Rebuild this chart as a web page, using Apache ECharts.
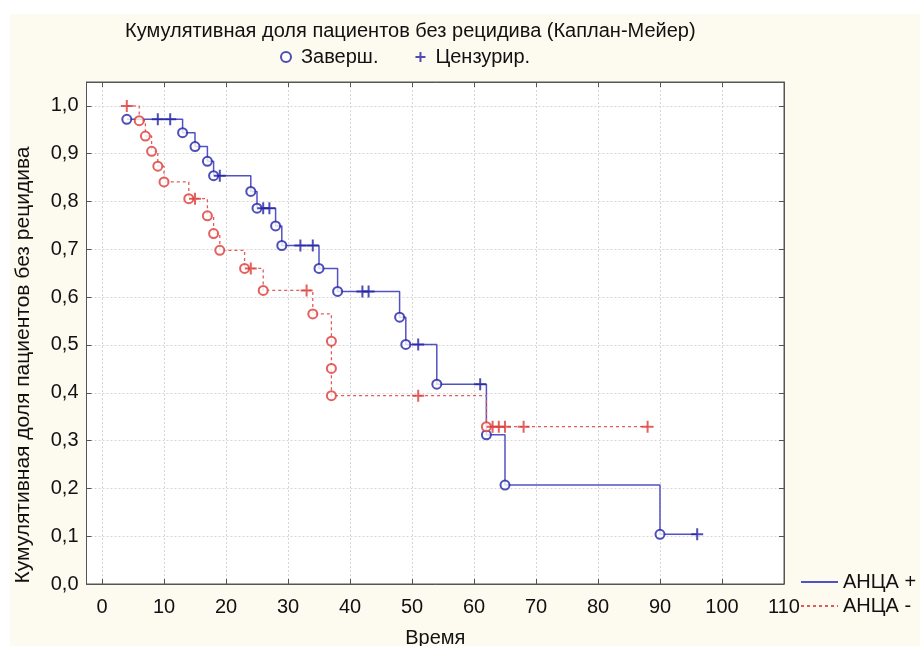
<!DOCTYPE html>
<html>
<head>
<meta charset="utf-8">
<script src="https://cdn.jsdelivr.net/npm/echarts@6/dist/echarts.min.js"></script>
<style>
html,body{margin:0;padding:0;background:#fff;}
#chart{width:920px;height:646px;}
</style>
</head>
<body>
<div id="chart"></div>
<script>
// АНЦА + (blue): time, survival, status (1 = event/завершённое, 0 = censored)
var posTime   = [4, 9, 11, 13, 15, 17, 18, 19, 24, 25, 26, 27, 28, 29, 32, 34, 35, 38, 42, 43, 48, 49, 51, 54, 61, 62, 65, 90, 96];
var posSurv   = [0.972, 0.972, 0.972, 0.944, 0.915, 0.884, 0.854, 0.854, 0.821, 0.786, 0.786, 0.786, 0.749, 0.708, 0.708, 0.708, 0.660, 0.612, 0.612, 0.612, 0.558, 0.501, 0.501, 0.418, 0.418, 0.312, 0.207, 0.104, 0.104];
var posStatus = [1, 0, 0, 1, 1, 1, 1, 0, 1, 1, 0, 0, 1, 1, 0, 0, 1, 1, 0, 0, 1, 1, 0, 1, 0, 1, 1, 1, 0];

// АНЦА - (red)
var negTime   = [4, 6, 7, 8, 9, 10, 14, 15, 17, 18, 19, 23, 24, 26, 33, 34, 37, 37, 37, 51, 62, 63, 64, 65, 68, 88];
var negSurv   = [1.0, 0.969, 0.937, 0.905, 0.874, 0.841, 0.806, 0.806, 0.770, 0.733, 0.698, 0.660, 0.660, 0.614, 0.614, 0.565, 0.508, 0.451, 0.394, 0.394, 0.329, 0.329, 0.329, 0.329, 0.329, 0.329];
var negStatus = [0, 1, 1, 1, 1, 1, 1, 0, 1, 1, 1, 1, 0, 1, 0, 1, 1, 1, 1, 0, 1, 0, 0, 0, 0, 0];

var xTicks = [0, 10, 20, 30, 40, 50, 60, 70, 80, 90, 100, 110];
var yTicks = [0, 0.1, 0.2, 0.3, 0.4, 0.5, 0.6, 0.7, 0.8, 0.9, 1.0];

var seriesNames = ['АНЦА +', 'АНЦА -'];
var markerNames = ['Заверш.', 'Цензурир.'];

var BLUE_LINE = '#5252c4', BLUE_MARK = '#2222a6';
var RED_LINE = '#e25a5a', RED_MARK = '#dc3a36';

function pairs(t, s) { return t.map(function (v, i) { return [v, s[i]]; }); }
function marks(t, s, st, want, color) {
  var out = [];
  for (var i = 0; i < t.length; i++) {
    if (st[i] === want) out.push({ value: [t[i], s[i]], itemStyle: { color: color, borderColor: color } });
  }
  return out;
}

var eventData = marks(posTime, posSurv, posStatus, 1, BLUE_MARK).concat(marks(negTime, negSurv, negStatus, 1, RED_MARK));
var censData = marks(posTime, posSurv, posStatus, 0, BLUE_MARK).concat(marks(negTime, negSurv, negStatus, 0, RED_MARK));

var fontF = '"Liberation Sans", Arial, sans-serif';
var tickFmt = function (v) { return v.toFixed(1).replace('.', ','); };
var gridLine = { show: true, lineStyle: { color: '#d6d6d6', type: [2, 2], width: 1 } };
var frameLine = { show: true, onZero: false, lineStyle: { color: '#555' } };
var inTick = { show: true, inside: true, length: 5, lineStyle: { color: '#555' } };

var chart = echarts.init(document.getElementById('chart'));
chart.setOption({
  backgroundColor: '#ffffff',
  animation: false,
  graphic: [{
    type: 'rect', left: 10, top: 14, z: -10, silent: true,
    shape: { width: 910, height: 632 },
    style: { fill: '#fdfaef' }
  }],
  title: {
    text: 'Кумулятивная доля пациентов без рецидива (Каплан-Мейер)',
    left: 125, top: 21, padding: 0,
    textStyle: { fontFamily: fontF, fontSize: 20, fontWeight: 'normal', color: '#111' }
  },
  legend: [{
    data: markerNames,
    left: 280, top: 47, padding: 0,
    itemWidth: 20, itemHeight: 10, itemGap: 36,
    textStyle: { fontFamily: fontF, fontSize: 20, color: '#111' }
  }, {
    data: seriesNames,
    orient: 'vertical',
    left: 800, top: 572, padding: 0,
    itemWidth: 37, itemHeight: 14, itemGap: 4,
    itemStyle: { opacity: 0 },
    textStyle: { fontFamily: fontF, fontSize: 20, color: '#111' }
  }],
  grid: {
    left: 86.5, right: 136, top: 82, bottom: 62,
    outerBoundsMode: 'none', containLabel: false,
    show: true, backgroundColor: '#ffffff', borderColor: '#555', borderWidth: 1
  },
  xAxis: [{
    type: 'value', min: -2.5, max: 110, position: 'bottom',
    minInterval: 10, maxInterval: 10,
    name: 'Время', nameLocation: 'middle', nameGap: 44,
    nameTextStyle: { fontFamily: fontF, fontSize: 20, color: '#111' },
    axisLine: frameLine,
    axisTick: Object.assign({ customValues: xTicks }, inTick),
    axisLabel: { fontFamily: fontF, fontSize: 20, color: '#111', margin: 13, customValues: xTicks },
    splitLine: gridLine
  }, {
    type: 'value', min: -2.5, max: 110, position: 'top',
    minInterval: 10, maxInterval: 10,
    axisLine: frameLine,
    axisTick: Object.assign({ customValues: xTicks }, inTick),
    axisLabel: { show: false },
    splitLine: { show: false }
  }],
  yAxis: [{
    type: 'value', min: 0, max: 1.05, position: 'left',
    minInterval: 0.1, maxInterval: 0.1,
    name: 'Кумулятивная доля пациентов без рецидива', nameLocation: 'middle', nameGap: 53,
    nameTextStyle: { fontFamily: fontF, fontSize: 21, color: '#111', padding: [0, 64, 0, 0] },
    axisLine: frameLine,
    axisTick: Object.assign({ customValues: yTicks }, inTick),
    axisLabel: { fontFamily: fontF, fontSize: 20, color: '#111', margin: 8, formatter: tickFmt,
      customValues: yTicks },
    splitLine: gridLine
  }, {
    type: 'value', min: 0, max: 1.05, position: 'right',
    minInterval: 0.1, maxInterval: 0.1,
    axisLine: frameLine,
    axisTick: Object.assign({ customValues: yTicks }, inTick),
    axisLabel: { show: false },
    splitLine: { show: false }
  }],
  series: [{
    name: seriesNames[0], type: 'line', step: 'end', symbol: 'none',
    data: pairs(posTime, posSurv),
    itemStyle: { color: BLUE_LINE },
    lineStyle: { color: BLUE_LINE, width: 1.5 },
    z: 2
  }, {
    name: seriesNames[1], type: 'line', step: 'end', symbol: 'none',
    data: pairs(negTime, negSurv),
    itemStyle: { color: RED_LINE },
    lineStyle: { color: RED_LINE, width: 1.3, type: [3, 3] },
    z: 2
  }, {
    name: markerNames[0], type: 'scatter', symbol: 'emptyCircle', symbolSize: 9,
    data: eventData,
    itemStyle: { color: BLUE_MARK, borderColor: BLUE_MARK, borderWidth: 2 },
    z: 4
  }, {
    name: markerNames[1], type: 'scatter', symbol: 'path://M0,6H12M6,0V12', symbolSize: 12,
    data: censData,
    itemStyle: { color: BLUE_MARK, borderColor: BLUE_MARK, borderWidth: 2 },
    z: 5
  }]
});
</script>
</body>
</html>
